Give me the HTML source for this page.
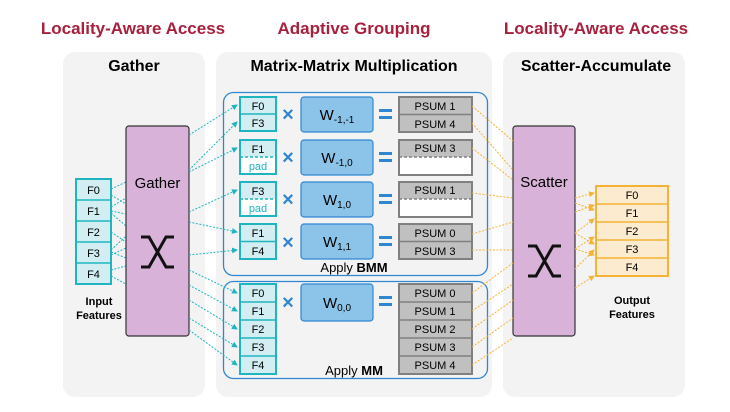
<!DOCTYPE html>
<html><head><meta charset="utf-8"><style>
html,body{margin:0;padding:0;background:#fff;}
svg{display:block;font-family:"Liberation Sans",Arial,sans-serif;}
</style></head><body>
<svg width="730" height="412" viewBox="0 0 730 412" xmlns="http://www.w3.org/2000/svg">
<defs>
<marker id="at" markerWidth="6" markerHeight="6" refX="5" refY="3" orient="auto" markerUnits="userSpaceOnUse"><path d="M0,0 L6,3 L0,6 z" fill="#1fb5c0"/></marker>
<marker id="ao" markerWidth="6" markerHeight="6" refX="5" refY="3" orient="auto" markerUnits="userSpaceOnUse"><path d="M0,0 L6,3 L0,6 z" fill="#f5b335"/></marker>
</defs>
<g font-weight="bold" font-size="17" fill="#a8203d" text-anchor="middle">
<text x="133" y="34">Locality-Aware Access</text>
<text x="354" y="34">Adaptive Grouping</text>
<text x="596" y="34">Locality-Aware Access</text>
</g>
<rect x="63" y="52" width="142" height="345" rx="12" fill="#f3f3f3"/>
<rect x="216" y="52" width="276" height="345" rx="12" fill="#f3f3f3"/>
<rect x="503" y="52" width="182" height="345" rx="12" fill="#f3f3f3"/>
<g font-weight="bold" font-size="16" fill="#000" text-anchor="middle">
<text x="134" y="71">Gather</text>
<text x="354" y="71">Matrix-Matrix Multiplication</text>
<text x="596" y="71">Scatter-Accumulate</text>
</g>
<rect x="223.5" y="92.5" width="264" height="183" rx="10" fill="none" stroke="#2f86d1" stroke-width="1.3"/>
<rect x="223.5" y="281.5" width="264" height="97" rx="10" fill="none" stroke="#2f86d1" stroke-width="1.3"/>
<text x="354" y="272" font-size="13" text-anchor="middle">Apply <tspan font-weight="bold">BMM</tspan></text>
<text x="354" y="375" font-size="13" text-anchor="middle">Apply <tspan font-weight="bold">MM</tspan></text>

<g font-size="11" text-anchor="middle">
<rect x="76" y="179" width="35" height="105" fill="#d2eef2" stroke="#1fb5c0" stroke-width="2"/>
<g stroke="#1fb5c0" stroke-width="1.5"><line x1="76" y1="200" x2="111" y2="200"/><line x1="76" y1="221" x2="111" y2="221"/><line x1="76" y1="242" x2="111" y2="242"/><line x1="76" y1="263" x2="111" y2="263"/></g>
<text x="93.5" y="194">F0</text><text x="93.5" y="215">F1</text><text x="93.5" y="236">F2</text><text x="93.5" y="257">F3</text><text x="93.5" y="278">F4</text>
</g>
<text x="99" y="305" font-size="11" font-weight="bold" text-anchor="middle">Input</text>
<text x="99" y="319" font-size="11" font-weight="bold" text-anchor="middle">Features</text>

<g stroke="#1fb5c0" stroke-width="1" stroke-dasharray="2,1.5" fill="none">
<line x1="111" y1="189" x2="126" y2="182"/>
<line x1="111" y1="207" x2="126" y2="198"/>
<line x1="111" y1="211" x2="126" y2="214"/>
<line x1="111" y1="195" x2="126" y2="204"/>
<line x1="111" y1="213" x2="126" y2="226"/>
<line x1="111" y1="232" x2="126" y2="242"/>
<line x1="111" y1="250" x2="126" y2="236"/>
<line x1="111" y1="252" x2="126" y2="258"/>
<line x1="111" y1="270" x2="126" y2="266"/>
<line x1="111" y1="276" x2="126" y2="284"/>
<line x1="111" y1="255" x2="126" y2="248"/>
</g>

<rect x="126" y="126" width="63" height="210" rx="3" fill="#d8b2d9" stroke="#333" stroke-width="1.2"/>
<text x="157.5" y="188" font-size="15" text-anchor="middle">Gather</text>
<path d="M141,237 h8 l17,30 h8 M141,267 h8 l17,-30 h8" stroke="#111" stroke-width="3" fill="none"/>

<rect x="513" y="126" width="62" height="210" rx="3" fill="#d8b2d9" stroke="#333" stroke-width="1.2"/>
<text x="544" y="187" font-size="15" text-anchor="middle">Scatter</text>
<path d="M528,246 h8 l17,30 h8 M528,276 h8 l17,-30 h8" stroke="#111" stroke-width="3" fill="none"/>

<g stroke="#1fb5c0" stroke-width="1" stroke-dasharray="2,1.5" fill="none" marker-end="url(#at)">
<line x1="189" y1="135" x2="237" y2="105"/>
<line x1="189" y1="170" x2="237" y2="122"/>
<line x1="189" y1="172" x2="237" y2="148"/>
<line x1="189" y1="212" x2="237" y2="190"/>
<line x1="189" y1="222" x2="237" y2="232"/>
<line x1="189" y1="255" x2="237" y2="250"/>
<line x1="189" y1="270" x2="237" y2="293"/>
<line x1="189" y1="285" x2="237" y2="311"/>
<line x1="189" y1="300" x2="237" y2="329"/>
<line x1="189" y1="318" x2="237" y2="347"/>
<line x1="189" y1="330" x2="237" y2="365"/>
</g>

<g font-size="11" text-anchor="middle">
<g fill="#d2eef2" stroke="#1fb5c0" stroke-width="2">
<rect x="240" y="97" width="36" height="34"/>
<rect x="240" y="140" width="36" height="34"/>
<rect x="240" y="182" width="36" height="34"/>
<rect x="240" y="224" width="36" height="35"/>
<rect x="240" y="284" width="36" height="90"/>
</g>
<rect x="241" y="157" width="34" height="16" fill="#fff"/>
<rect x="241" y="199" width="34" height="16" fill="#fff"/>
<g stroke="#1fb5c0" stroke-width="1.5">
<line x1="240" y1="114" x2="276" y2="114"/>
<line x1="240" y1="157" x2="276" y2="157" stroke-dasharray="3,2"/>
<line x1="240" y1="199" x2="276" y2="199" stroke-dasharray="3,2"/>
<line x1="240" y1="241.5" x2="276" y2="241.5"/>
<line x1="240" y1="302" x2="276" y2="302"/><line x1="240" y1="320" x2="276" y2="320"/><line x1="240" y1="338" x2="276" y2="338"/><line x1="240" y1="356" x2="276" y2="356"/>
</g>
<text x="258" y="110">F0</text><text x="258" y="127">F3</text>
<text x="258" y="153">F1</text><text x="258" y="170" fill="#1fb5c0">pad</text>
<text x="258" y="195">F3</text><text x="258" y="212" fill="#1fb5c0">pad</text>
<text x="258" y="237">F1</text><text x="258" y="255">F4</text>
<text x="258" y="297">F0</text><text x="258" y="315">F1</text><text x="258" y="333">F2</text><text x="258" y="351">F3</text><text x="258" y="369">F4</text>
</g>

<g font-size="20" font-weight="bold" fill="#2f86d1" text-anchor="middle">
<text x="288" y="121">×</text><text x="288" y="164">×</text><text x="288" y="206">×</text><text x="288" y="249">×</text><text x="288" y="309">×</text>
</g>
<g fill="#2f86d1">
<rect x="379" y="109" width="13" height="3"/><rect x="379" y="116" width="13" height="3"/>
<rect x="379" y="152" width="13" height="3"/><rect x="379" y="159" width="13" height="3"/>
<rect x="379" y="194" width="13" height="3"/><rect x="379" y="201" width="13" height="3"/>
<rect x="379" y="236" width="13" height="3"/><rect x="379" y="243" width="13" height="3"/>
<rect x="379" y="296" width="13" height="3"/><rect x="379" y="303" width="13" height="3"/>
</g>

<g fill="#8cc3e8" stroke="#2f86d1" stroke-width="1.2">
<rect x="301" y="97" width="72" height="35" rx="3"/>
<rect x="301" y="140" width="72" height="35" rx="3"/>
<rect x="301" y="182" width="72" height="35" rx="3"/>
<rect x="301" y="224" width="72" height="35" rx="3"/>
<rect x="301" y="284" width="72" height="37" rx="3"/>
</g>
<g font-size="15" text-anchor="middle">
<text x="337" y="120">W<tspan font-size="10" dy="3">-1,-1</tspan></text>
<text x="337" y="163">W<tspan font-size="10" dy="3">-1,0</tspan></text>
<text x="337" y="205">W<tspan font-size="10" dy="3">1,0</tspan></text>
<text x="337" y="247">W<tspan font-size="10" dy="3">1,1</tspan></text>
<text x="337" y="308">W<tspan font-size="10" dy="3">0,0</tspan></text>
</g>

<g font-size="11" text-anchor="middle">
<g fill="#c0c0c0" stroke="#808080" stroke-width="2">
<rect x="399" y="97" width="73" height="35"/>
<rect x="399" y="140" width="73" height="35"/>
<rect x="399" y="182" width="73" height="35"/>
<rect x="399" y="224" width="73" height="35"/>
<rect x="399" y="284" width="73" height="90"/>
</g>
<rect x="400" y="157" width="71" height="17" fill="#fff"/>
<rect x="400" y="199" width="71" height="17" fill="#fff"/>
<g stroke="#808080" stroke-width="1.5">
<line x1="399" y1="114.5" x2="472" y2="114.5"/>
<line x1="399" y1="157" x2="472" y2="157" stroke-dasharray="3,2"/>
<line x1="399" y1="199" x2="472" y2="199" stroke-dasharray="3,2"/>
<line x1="399" y1="241.5" x2="472" y2="241.5"/>
<line x1="399" y1="302" x2="472" y2="302"/><line x1="399" y1="320" x2="472" y2="320"/><line x1="399" y1="338" x2="472" y2="338"/><line x1="399" y1="356" x2="472" y2="356"/>
</g>
<text x="435" y="110">PSUM 1</text><text x="435" y="128">PSUM 4</text>
<text x="435" y="152">PSUM 3</text>
<text x="435" y="194">PSUM 1</text>
<text x="435" y="237">PSUM 0</text><text x="435" y="255">PSUM 3</text>
<text x="435" y="297">PSUM 0</text><text x="435" y="315">PSUM 1</text><text x="435" y="333">PSUM 2</text><text x="435" y="351">PSUM 3</text><text x="435" y="369">PSUM 4</text>
</g>

<g stroke="#f5b335" stroke-width="1" stroke-dasharray="2,1.5" fill="none">
<line x1="472" y1="106" x2="513" y2="141"/>
<line x1="472" y1="123" x2="513" y2="170"/>
<line x1="472" y1="148" x2="513" y2="180"/>
<line x1="472" y1="193" x2="513" y2="198"/>
<line x1="472" y1="234" x2="513" y2="222"/>
<line x1="472" y1="250" x2="513" y2="250"/>
<line x1="472" y1="293" x2="513" y2="263"/>
<line x1="472" y1="311" x2="513" y2="284"/>
<line x1="472" y1="329" x2="513" y2="300"/>
<line x1="472" y1="347" x2="513" y2="318"/>
<line x1="472" y1="365" x2="513" y2="338"/>
</g>
<g stroke="#f5b335" stroke-width="1" stroke-dasharray="2,1.5" fill="none" marker-end="url(#ao)">
<line x1="575" y1="198" x2="594" y2="193"/>
<line x1="575" y1="203" x2="594" y2="210"/>
<line x1="575" y1="212" x2="594" y2="205"/>
<line x1="575" y1="233" x2="594" y2="219"/>
<line x1="575" y1="233" x2="594" y2="244"/>
<line x1="575" y1="249" x2="594" y2="237"/>
<line x1="575" y1="249" x2="594" y2="255"/>
<line x1="575" y1="269" x2="594" y2="250"/>
<line x1="575" y1="288" x2="594" y2="276"/>
</g>
<g font-size="11" text-anchor="middle">
<rect x="596" y="186" width="72" height="90" fill="#fdebd0" stroke="#f5b335" stroke-width="2"/>
<g stroke="#f5b335" stroke-width="1.5"><line x1="596" y1="204" x2="668" y2="204"/><line x1="596" y1="222" x2="668" y2="222"/><line x1="596" y1="240" x2="668" y2="240"/><line x1="596" y1="258" x2="668" y2="258"/></g>
<text x="632" y="199">F0</text><text x="632" y="217">F1</text><text x="632" y="235">F2</text><text x="632" y="253">F3</text><text x="632" y="271">F4</text>
</g>
<text x="632" y="304" font-size="11" font-weight="bold" text-anchor="middle">Output</text>
<text x="632" y="318" font-size="11" font-weight="bold" text-anchor="middle">Features</text>
</svg>
</body></html>
